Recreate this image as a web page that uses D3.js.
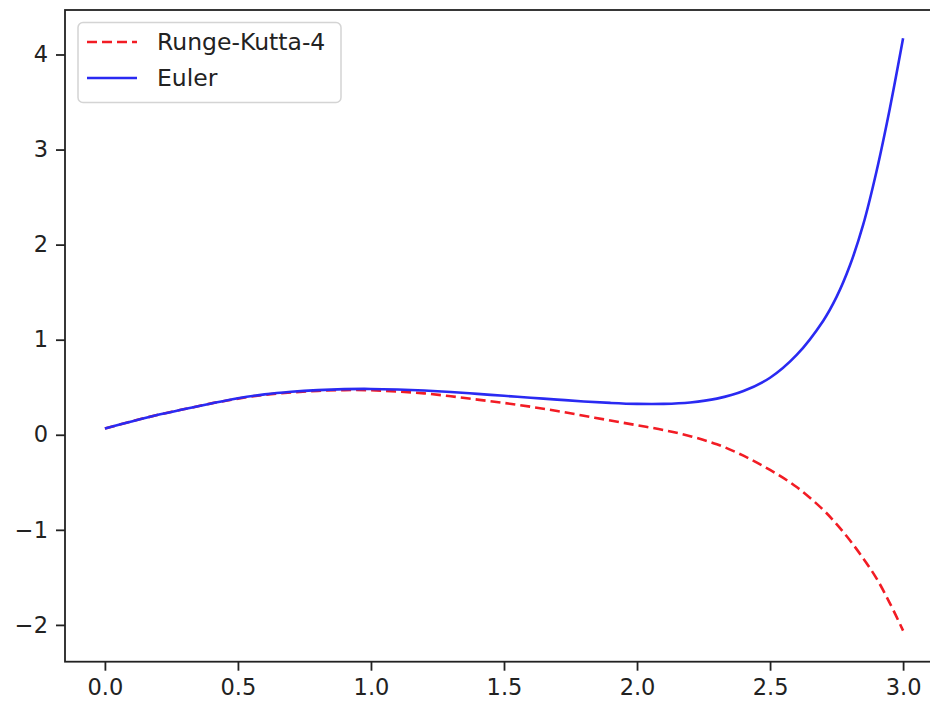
<!DOCTYPE html>
<html>
<head>
<meta charset="utf-8">
<script src="https://cdn.jsdelivr.net/npm/d3@7"></script>
<style>
  html, body { margin: 0; padding: 0; background: #fff; }
  svg { display: block; }
  text { font-family: "DejaVu Sans", sans-serif; fill: #222; }
</style>
</head>
<body>
<svg id="chart" width="930" height="705"></svg>
<script>
// ---- data ----
const tValues = [0.0, 0.1, 0.2, 0.3, 0.4, 0.5, 0.6, 0.7, 0.8, 0.9, 1.0,
                 1.1, 1.2, 1.3, 1.4, 1.5, 1.6, 1.7, 1.8, 1.9, 2.0,
                 2.1, 2.2, 2.3, 2.4, 2.5, 2.6, 2.7, 2.75, 2.8, 2.85, 2.9, 2.95, 3.0];
const rk4Values = [0.065, 0.14, 0.21, 0.27, 0.33, 0.38, 0.42, 0.445, 0.462, 0.47, 0.468,
                   0.455, 0.435, 0.405, 0.37, 0.335, 0.295, 0.25, 0.20, 0.15, 0.10,
                   0.05, -0.015, -0.10, -0.22, -0.37, -0.55, -0.79, -0.94, -1.11, -1.30, -1.51, -1.77, -2.06];
const eulerValues = [0.065, 0.14, 0.21, 0.27, 0.33, 0.385, 0.425, 0.452, 0.47, 0.48, 0.482,
                     0.476, 0.465, 0.45, 0.43, 0.41, 0.39, 0.37, 0.35, 0.335, 0.325,
                     0.325, 0.34, 0.38, 0.46, 0.60, 0.84, 1.20, 1.45, 1.78, 2.21, 2.77, 3.43, 4.17];
const seriesNames = ["Runge-Kutta-4", "Euler"];
const xTicks = [0.0, 0.5, 1.0, 1.5, 2.0, 2.5, 3.0];
const yTicks = [-2, -1, 0, 1, 2, 3, 4];

// ---- layout ----
const svg = d3.select("#chart");
const mLeft = 65, mRight = 943, mTop = 10, mBottom = 661.7;
const x = d3.scaleLinear().domain([-0.15, 3.15]).range([mLeft, mRight]);
const y = d3.scaleLinear().domain([-2.387, 4.468]).range([mBottom, mTop]);

const fmtX = d3.format(".1f");
const fmtY = v => (v < 0 ? "\u2212" + Math.abs(v) : String(v));

// curves
const clipId = "plotclip";
svg.append("clipPath").attr("id", clipId)
  .append("rect").attr("x", mLeft).attr("y", mTop).attr("width", mRight - mLeft).attr("height", mBottom - mTop);

const line = d3.line()
  .x((d, i) => x(tValues[i]))
  .y(d => y(d))
  .curve(d3.curveCatmullRom.alpha(0.5));

const redColor = "#f21c24", blueColor = "#2a2af2";

const plot = svg.append("g").attr("clip-path", `url(#${clipId})`);
plot.append("path")
  .attr("d", line(rk4Values))
  .attr("fill", "none")
  .attr("stroke", redColor)
  .attr("stroke-width", 2.6)
  .attr("stroke-dasharray", "10,5");
plot.append("path")
  .attr("d", line(eulerValues))
  .attr("fill", "none")
  .attr("stroke", blueColor)
  .attr("stroke-width", 2.6);

// axes
const fontSize = 22.5;
const xAxis = d3.axisBottom(x).tickValues(xTicks).tickFormat(fmtX).tickSize(9).tickPadding(8);
const yAxis = d3.axisLeft(y).tickValues(yTicks).tickFormat(fmtY).tickSize(9).tickPadding(8);

const gx = svg.append("g").attr("transform", `translate(0,${mBottom})`).call(xAxis);
const gy = svg.append("g").attr("transform", `translate(${mLeft},0)`).call(yAxis);
[gx, gy].forEach(g => {
  g.select(".domain").remove();
  g.selectAll(".tick line").attr("stroke", "#222").attr("stroke-width", 1.8);
  g.selectAll(".tick text").attr("font-size", fontSize).attr("font-family", "DejaVu Sans").attr("fill", "#222");
});

// spines
const spines = svg.append("g").attr("stroke", "#222").attr("stroke-width", 1.8).attr("fill", "none");
spines.append("rect").attr("x", mLeft).attr("y", mTop).attr("width", mRight - mLeft).attr("height", mBottom - mTop);

// legend
const legend = svg.append("g");
legend.append("rect")
  .attr("x", 78).attr("y", 22.5).attr("width", 263).attr("height", 80)
  .attr("rx", 5).attr("ry", 5)
  .attr("fill", "#fff").attr("fill-opacity", 0.85)
  .attr("stroke", "#d4d4d4").attr("stroke-width", 1.5);
const legendItems = [
  { name: seriesNames[0], color: redColor, dash: "10,5" },
  { name: seriesNames[1], color: blueColor, dash: null }
];
legendItems.forEach((d, i) => {
  const yy = 42 + i * 36;
  legend.append("line")
    .attr("x1", 87).attr("x2", 137).attr("y1", yy).attr("y2", yy)
    .attr("stroke", d.color).attr("stroke-width", 2.6)
    .attr("stroke-dasharray", d.dash);
  legend.append("text")
    .attr("x", 157).attr("y", yy).attr("dy", "0.36em")
    .attr("font-size", 23.5)
    .text(d.name);
});
</script>
</body>
</html>
